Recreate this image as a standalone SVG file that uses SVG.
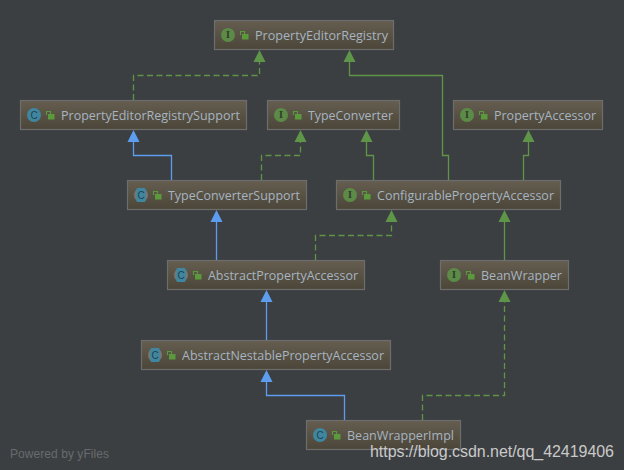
<svg xmlns="http://www.w3.org/2000/svg" width="624" height="470" viewBox="0 0 624 470">
<style>
.box{fill:url(#nodeFill);stroke:#6d6d6d;stroke-width:1.2}
.label{font-family:"Open Sans","Noto Sans",sans-serif;font-size:13px;fill:#a7b4c1}
.ci{fill:#5c8a47}
.cc{fill:#3f87a0}
.ia{fill:#2f3a2a;font-family:"Liberation Serif",serif;font-size:10px;font-weight:bold;text-anchor:middle}
.ca{fill:#23414c;font-family:"Liberation Sans",sans-serif;font-size:10px;text-anchor:middle}
.lock{fill:#5a9a3c}
.lockh{fill:none;stroke:#5a9a3c;stroke-width:1.1}
.g{fill:none;stroke:#5f9548;stroke-width:1.3}
.d{stroke-dasharray:6 3.5}
.b{fill:none;stroke:#5c9df0;stroke-width:1.3}
.ag{fill:#5f9548}
.ab{fill:#5c9df0}
</style>
<defs>
<linearGradient id="nodeFill" x1="0" y1="0" x2="0" y2="1"><stop offset="0" stop-color="#655e50"/><stop offset="1" stop-color="#4b4639"/></linearGradient>
<g id="ltri"><path d="M0 -0.5L6 11.5H-6Z"/></g>
<g id="lk"><rect x="2" y="3" width="6.5" height="5.5" class="lock"/><path d="M0.5 4V0.5H4.5V3" class="lockh"/></g>
<g id="iI"><circle r="7" class="ci"/><text y="3.4" class="ia">I</text></g>
<g id="iC"><circle r="7" class="cc"/><text y="3.5" class="ca">C</text></g>
<g id="iA"><circle r="7" fill="#75787a"/><rect x="-4.6" y="-7" width="9.2" height="14" rx="1.5" class="cc"/><text y="3.5" class="ca">C</text></g>
</defs>
<rect width="624" height="470" fill="#3c3f41"/>
<g id="connectors">
<path class="g d" d="M133.5 100V75.5H259.5V62"/>
<use href="#ltri" x="259.5" y="50.5" class="ag"/>
<path class="g" d="M448.5 180V155.5H442.5V75.5H349.5V62"/>
<use href="#ltri" x="349.5" y="50.5" class="ag"/>
<path class="b" d="M171.5 180V155.5H133.5V142"/>
<use href="#ltri" x="133.5" y="130.5" class="ab"/>
<path class="g d" d="M261.5 180V155.5H300.5V142"/>
<use href="#ltri" x="300.5" y="130.5" class="ag"/>
<path class="g" d="M373.5 180V155.5H366.5V142"/>
<use href="#ltri" x="366.5" y="130.5" class="ag"/>
<path class="g" d="M523.5 180V155.5H528.5V142"/>
<use href="#ltri" x="528.5" y="130.5" class="ag"/>
<path class="b" d="M216.5 260V222"/>
<use href="#ltri" x="216.5" y="210.5" class="ab"/>
<path class="g d" d="M315.5 260V235.5H391.5V222"/>
<use href="#ltri" x="391.5" y="210.5" class="ag"/>
<path class="g" d="M504.5 260V222"/>
<use href="#ltri" x="504.5" y="210.5" class="ag"/>
<path class="b" d="M266.5 340V302"/>
<use href="#ltri" x="266.5" y="290.5" class="ab"/>
<path class="b" d="M344.5 420V395.5H266.5V382"/>
<use href="#ltri" x="266.5" y="370.5" class="ab"/>
<path class="g d" d="M422.5 420V395.5H504.5V302"/>
<use href="#ltri" x="504.5" y="290.5" class="ag"/>
</g>
<g id="n-PropertyEditorRegistry"><rect class="box" x="214.5" y="20.5" width="179" height="29"/><use href="#iI" x="228" y="35"/><use href="#lk" x="240" y="31"/><text class="label" x="255" y="39.5" textLength="133" lengthAdjust="spacingAndGlyphs">PropertyEditorRegistry</text></g>
<g id="n-PropertyEditorRegistrySupport"><rect class="box" x="20.5" y="100.5" width="226" height="29"/><use href="#iC" x="34" y="115"/><use href="#lk" x="46" y="111"/><text class="label" x="61" y="119.5" textLength="179" lengthAdjust="spacingAndGlyphs">PropertyEditorRegistrySupport</text></g>
<g id="n-TypeConverter"><rect class="box" x="267.5" y="100.5" width="132" height="29"/><use href="#iI" x="281" y="115"/><use href="#lk" x="293" y="111"/><text class="label" x="308" y="119.5" textLength="85" lengthAdjust="spacingAndGlyphs">TypeConverter</text></g>
<g id="n-PropertyAccessor"><rect class="box" x="453.5" y="100.5" width="149" height="29"/><use href="#iI" x="467" y="115"/><use href="#lk" x="479" y="111"/><text class="label" x="494" y="119.5" textLength="102" lengthAdjust="spacingAndGlyphs">PropertyAccessor</text></g>
<g id="n-TypeConverterSupport"><rect class="box" x="127.5" y="180.5" width="179" height="29"/><use href="#iA" x="141" y="195"/><use href="#lk" x="153" y="191"/><text class="label" x="168" y="199.5" textLength="132" lengthAdjust="spacingAndGlyphs">TypeConverterSupport</text></g>
<g id="n-ConfigurablePropertyAccessor"><rect class="box" x="336.5" y="180.5" width="224" height="29"/><use href="#iI" x="350" y="195"/><use href="#lk" x="362" y="191"/><text class="label" x="377" y="199.5" textLength="177" lengthAdjust="spacingAndGlyphs">ConfigurablePropertyAccessor</text></g>
<g id="n-AbstractPropertyAccessor"><rect class="box" x="167.5" y="260.5" width="197" height="29"/><use href="#iA" x="181" y="275"/><use href="#lk" x="193" y="271"/><text class="label" x="208" y="279.5" textLength="150" lengthAdjust="spacingAndGlyphs">AbstractPropertyAccessor</text></g>
<g id="n-BeanWrapper"><rect class="box" x="440.5" y="260.5" width="128" height="29"/><use href="#iI" x="454" y="275"/><use href="#lk" x="466" y="271"/><text class="label" x="481" y="279.5" textLength="81" lengthAdjust="spacingAndGlyphs">BeanWrapper</text></g>
<g id="n-AbstractNestablePropertyAccessor"><rect class="box" x="141.5" y="340.5" width="249" height="29"/><use href="#iA" x="155" y="355"/><use href="#lk" x="167" y="351"/><text class="label" x="182" y="359.5" textLength="202" lengthAdjust="spacingAndGlyphs">AbstractNestablePropertyAccessor</text></g>
<g id="n-BeanWrapperImpl"><rect class="box" x="306.5" y="420.5" width="154" height="29"/><use href="#iC" x="320" y="435"/><use href="#lk" x="332" y="431"/><text class="label" x="347" y="439.5" textLength="107" lengthAdjust="spacingAndGlyphs">BeanWrapperImpl</text></g>
<text x="10" y="458" font-family="'Liberation Sans',sans-serif" font-size="12px" fill="#686b6d" textLength="99">Powered by yFiles</text>
<text x="370" y="457" font-family="'Liberation Sans',sans-serif" font-size="16px" fill="#c9c9c9" textLength="244">https://blog.csdn.net/qq_42419406</text>
</svg>
